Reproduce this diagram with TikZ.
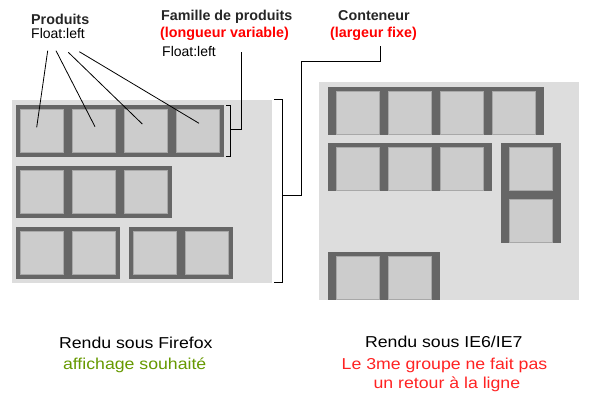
\documentclass[tikz,border=0pt]{standalone}
\usepackage{fontspec}
\setmainfont{Liberation Sans}
\newfontfamily\capfont{Liberation Sans}[FakeStretch=1.12]
\usetikzlibrary{calc}
\definecolor{panelgray}{HTML}{DDDDDD}
\definecolor{famgray}{HTML}{666666}
\definecolor{prodgray}{HTML}{CCCCCC}
\definecolor{prodedge}{HTML}{A8A8A8}
\definecolor{lblred}{HTML}{FF0000}
\definecolor{txtred}{HTML}{FF2222}
\definecolor{okgreen}{RGB}{102,153,0}
\begin{document}
\begin{tikzpicture}[x=1pt,y=-1pt,
  panel/.style={rectangle, fill=panelgray, draw=none, inner sep=0, outer sep=0, anchor=north west},
  fam/.style={rectangle, fill=famgray, draw=none, inner sep=0, outer sep=0, anchor=north west},
  prod/.style={rectangle, fill=prodgray, draw=prodedge, line width=1pt, inner sep=0, outer sep=0, minimum size=43pt, anchor=north west},
  lead/.style={draw=black, line width=1pt},
  boldlbl/.style={inner sep=0, anchor=base west, font=\bfseries\fontsize{14.3}{17}\selectfont},
  plainlbl/.style={inner sep=0, anchor=base west, font=\fontsize{14}{17}\selectfont},
  caption/.style={inner sep=0, anchor=base, font=\capfont\fontsize{15.8}{19}\selectfont}]
\useasboundingbox (0,0) rectangle (600,401);
% ---------- left panel (Firefox) ----------
\node[panel, minimum width=260pt, minimum height=183pt] (lpanel) at (12,100) {};
\node[fam, minimum width=208pt, minimum height=52pt] (lf1) at (16,105) {};
\node[fam, minimum width=156pt, minimum height=52pt] (lf2) at (16,166) {};
\node[fam, minimum width=104pt, minimum height=52pt] (lf3) at (16,227) {};
\node[fam, minimum width=104pt, minimum height=52pt] (lf4) at (129,227) {};
\foreach \k in {0,1,2,3} \node[prod] (lp1\k) at ({20.5+52*\k},109.5) {};
\foreach \k in {0,1,2} \node[prod] (lp2\k) at ({20.5+52*\k},170.5) {};
\foreach \k in {0,1} \node[prod] (lp3\k) at ({20.5+52*\k},231.5) {};
\foreach \k in {0,1} \node[prod] (lp4\k) at ({133.5+52*\k},231.5) {};
% ---------- right panel (IE) ----------
\node[panel, minimum width=260pt, minimum height=218pt] (rpanel) at (319,82) {};
\node[fam, minimum width=216pt, minimum height=48pt] (rf1) at (328,87) {};
\node[fam, minimum width=164pt, minimum height=48pt] (rf2) at (328,143) {};
\node[fam, minimum width=60pt, minimum height=100pt] (rf3) at (501,143) {};
\node[fam, minimum width=112pt, minimum height=48pt] (rf4) at (328,252) {};
\foreach \k in {0,1,2,3} \node[prod] (rp1\k) at ({336.5+52*\k},91.5) {};
\foreach \k in {0,1,2} \node[prod] (rp2\k) at ({336.5+52*\k},147.5) {};
\node[prod] (rp30) at (509.5,147.5) {};
\node[prod] (rp31) at (509.5,199.5) {};
\foreach \k in {0,1} \node[prod] (rp4\k) at ({336.5+52*\k},256.5) {};
% ---------- labels ----------
\node[boldlbl, text=black!85] (produits) at (31,25) {Produits};
\node[plainlbl] (prodfloat) at (31,39) {Float:left};
\node[boldlbl, text=black!85] (famille) at (161,21) {Famille de produits};
\node[boldlbl, text=lblred] (famlong) at (160,37.7) {(longueur variable)};
\node[plainlbl] (famfloat) at (162,56.5) {Float:left};
\node[boldlbl, text=black!85] (conteneur) at (338,20.7) {Conteneur};
\node[boldlbl, text=lblred] (contlarg) at (330,37.7) {(largeur fixe)};
\node[caption] (ffcap) at (135.8,348.3) {Rendu sous Firefox};
\node[caption, text=okgreen] (ffnote) at (134.7,369) {affichage souhaité};
\node[caption] (iecap) at (443.8,347.8) {Rendu sous IE6/IE7};
\node[caption, text=txtred] (ienote1) at (444.5,369.2) {Le 3me groupe ne fait pas};
\node[caption, text=txtred] (ienote2) at (446.9,388.4) {un retour à la ligne};
% ---------- leader lines for products ----------
\coordinate (s0) at (47.7,50.7);
\coordinate (s1) at (56,50.7);
\coordinate (s2) at (68.3,52.3);
\coordinate (s3) at (79.3,51.7);
\draw[lead, line width=0.8pt] (s0) -- ($(lp10.center)+(-5.3,-3.7)$);
\draw[lead, line width=0.8pt] (s1) -- ($(lp11.center)+(1,-4.3)$);
\draw[lead, line width=0.8pt] (s2) -- ($(lp12.center)+(-3.7,-7)$);
\draw[lead, line width=0.8pt] (s3) -- ($(lp13.center)+(1,-7.7)$);
% ---------- family bracket ----------
\coordinate (fbt) at (226,105.5);
\coordinate (fbb) at (226,157);
\coordinate (fbm) at (230.5,130);
\coordinate (fbend) at (241,52);
\draw[lead] (fbt) -| (230.5,157) -- (fbb);
\draw[lead] (fbm) -| (fbend);
% ---------- container bracket ----------
\coordinate (cbt) at (274,99.5);
\coordinate (cbb) at (274,282);
\coordinate (cbm) at (282.5,196);
\coordinate (cbend) at (380,46);
\draw[lead] (cbt) -| (282.5,282) -- (cbb);
\draw[lead] (cbm) -| (301,62) -| (cbend);
\end{tikzpicture}
\end{document}
